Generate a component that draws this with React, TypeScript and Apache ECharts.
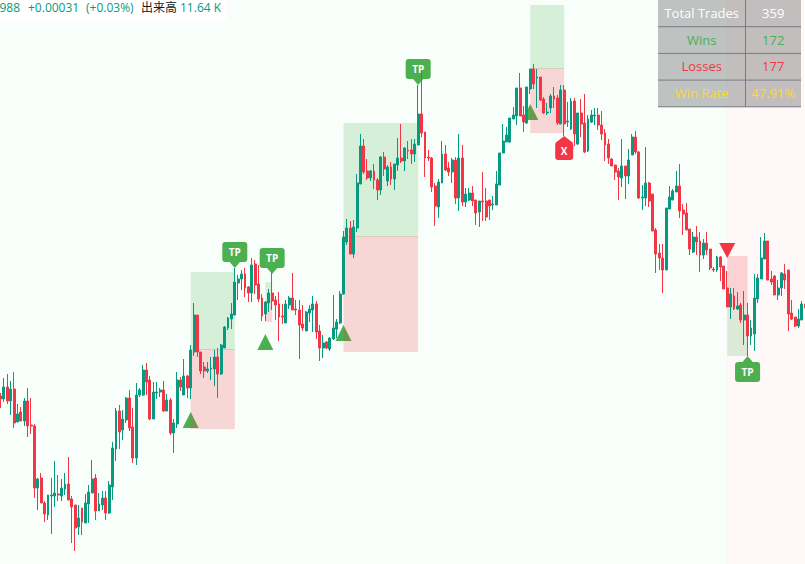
import React, { useEffect, useRef } from "react";
import * as echarts from "echarts";

const GREEN = "#089981";
const RED = "#f23645";
const MARK_GREEN = "#4caf50";
const FONT = "'Open Sans', 'Noto Sans CJK JP', sans-serif";

// Candle side per bar
const sides = (
  "RGRGRGRGRR" + "RGRRGGGRGG" + "RRRGRGGGRG" + "GRGGGRGGRR" + "GGGRRGGGRG" + "RGGRGRGGRR" +
  "RGGGRGGGGG" + "GGRRGRRRGG" + "RRRRGGRRRR" + "GGGRRGRGGG" + "GGGRGGGRRG" + "RRGRGRGGRG" +
  "RRGGRRRRRG" + "GRRGRGRGGR" + "RGRRRGGGGG" + "GGGRRGGRGR" + "RGGRRGRGGR" + "GRRGGGRRRR" +
  "RRRGRGGRRG" + "GRRRRRGGGG" + "RRRRGRRGRR" + "RGRRRGRGRG" + "RGGGGGRRRG" + "GRRRRGGR"
).split("");

// Values, on a scale that runs downward from 0 to 564
const wickTops = [
  393,378,374,381,372,404,407,398,388,398, 424,478,473,501,495,478,461,475,479,473,
  457,496,505,505,508,494,485,460,474,493, 491,491,481,442,408,405,410,397,390,408,
  383,388,365,363,376,382,382,388,381,394, 398,419,372,377,359,375,345,303,315,352,
  362,362,357,350,348,344,326,317,303,268, 275,270,268,286,258,260,265,294,301,289,
  273,296,292,304,300,296,273,300,300,305, 311,305,296,301,325,335,341,337,295,319,
  291,231,219,221,220,174,134,139,159,170, 164,178,156,152,165,162,164,138,124,147,
  141,139,139,85,70,132,150,157,183,179, 141,145,162,158,157,134,145,188,188,186,
  200,201,172,188,200,196,171,153,124,127, 118,107,88,73,106,87,69,64,69,77,
  97,103,94,87,95,85,85,102,98,98, 113,99,94,115,110,108,108,111,129,139,
  158,165,168,139,166,149,134,131,151,185, 147,182,194,228,244,244,208,186,189,171,
  164,204,203,229,232,226,232,239,232,249, 267,256,256,266,271,288,288,292,303,291,
  303,320,274,274,237,233,241,271,275,280, 272,264,270,300,317,309,301,304,
];
const bodyTops = [
  396,387,387,389,389,414,412,401,401,425, 426,479,478,503,495,495,493,494,488,484,
  484,499,505,518,508,503,492,479,478,504, 498,498,485,448,411,411,419,398,398,427,
  395,390,370,370,380,392,392,390,390,400, 400,423,380,380,376,376,350,315,315,352,
  367,369,368,357,357,345,327,318,314,282, 279,274,274,287,265,264,284,298,302,293,
  293,300,304,316,304,298,298,309,310,324, 312,309,304,304,331,343,342,338,328,322,
  294,237,228,228,227,183,146,146,171,171, 171,180,157,157,167,167,164,158,158,148,
  150,150,144,114,114,132,157,158,186,182, 154,154,168,160,160,158,158,194,193,193,
  200,201,201,201,200,204,184,153,141,135, 118,115,88,88,115,87,69,69,77,77,
  99,112,96,96,98,90,90,121,101,101, 113,113,123,119,115,115,115,125,133,144,
  159,165,171,166,166,160,137,137,152,197, 183,183,194,230,253,258,208,197,191,186,
  186,210,213,229,237,237,241,243,243,249, 269,257,257,266,288,294,296,306,305,315,
  315,328,298,278,258,241,241,279,276,288, 273,274,270,313,317,319,304,304,
];
const bodyBottoms = [
  399,399,401,401,423,422,421,421,426,426, 488,488,503,514,515,496,496,495,496,489,
  500,507,528,527,522,523,504,493,511,511, 505,513,513,487,449,432,430,420,428,458,
  458,395,395,382,419,419,393,392,411,411, 433,433,424,387,395,388,388,352,352,371,
  371,371,369,369,374,374,348,328,319,315, 283,279,288,293,293,285,299,316,314,303,
  301,305,317,317,323,305,310,310,325,328, 331,313,310,332,348,348,348,349,339,329,
  323,294,242,254,254,228,184,172,178,178, 180,190,190,169,181,179,179,165,161,161,
  151,154,154,145,133,158,158,187,206,207, 183,170,172,172,198,198,202,202,200,201,
  213,212,202,217,206,205,205,185,153,142, 142,119,116,116,122,123,89,84,78,100,
  113,113,108,99,123,124,124,122,129,134, 144,124,152,151,122,116,125,134,145,158,
  166,172,177,178,176,176,155,152,198,198, 198,201,231,254,258,270,270,209,200,192,
  211,214,230,249,252,242,255,255,250,268, 270,270,267,289,307,307,309,309,320,320,
  336,336,334,299,279,259,280,282,295,295, 288,280,314,319,326,326,320,308,
];
const wickBottoms = [
  408,402,404,415,428,422,421,426,437,434, 498,510,503,522,520,534,507,501,501,495,
  500,543,551,535,535,523,523,493,520,511, 510,520,514,500,461,449,440,423,431,463,
  465,397,396,395,420,419,399,397,412,411, 435,453,428,391,395,398,399,356,357,374,
  378,373,380,386,398,375,348,330,329,315, 300,290,297,302,302,294,302,321,321,312,
  310,320,341,324,323,309,310,315,359,331, 331,322,332,339,361,358,349,351,340,338,
  324,295,245,254,258,232,184,174,180,181, 189,200,195,176,186,185,190,171,163,171,
  159,164,162,145,137,177,161,192,226,218, 183,171,176,183,204,211,206,207,201,206,
  225,227,221,221,220,210,205,185,153,142, 143,119,125,116,132,124,94,89,108,101,
  114,115,113,108,125,124,136,127,130,146, 145,137,153,152,123,125,130,140,161,164,
  166,180,200,187,199,184,155,154,199,210, 206,207,231,273,270,293,270,209,200,192,
  218,235,230,255,253,255,272,259,255,270, 272,272,281,289,307,319,310,310,323,345,
  356,345,351,303,279,259,280,285,295,300, 296,289,331,320,327,328,320,310,
];

// Trade zones: first bar, last bar, from, to
const profitZones = [
  [56, 69, 272, 350], [78, 80, 282, 302], [101, 123, 123, 237], [156, 166, 5, 69], [214, 220, 307, 356],
];
const lossZones = [
  [56, 69, 349, 429], [78, 80, 301, 322], [101, 123, 236, 352], [156, 166, 68, 133], [214, 220, 256, 307],
];
// Entry arrows: bar, base of the arrow, direction (1 = up)
const entries = [
  [56, 428, 1], [78, 350, 1], [101, 341, 1], [156, 120, 1], [214, 243, -1],
];
// Exit tags: bar, tip of the pointer, position (1 = above the bar), label
const exitBars = [69, 80, 123, 166, 220];
const exitTips = [268, 274, 85, 136, 356];
const exitAbove = [1, 1, 1, 0, 0];
const exitLabels = ["TP", "TP", "TP", "X", "TP"];

const tableLabels = ["Total Trades", "Wins", "Losses", "Win Rate"];
const tableValues = ["359", "172", "177", "47.91%"];
const tableColors = ["#ffffff", MARK_GREEN, RED, "#fdd835"];

const bars = sides.map((_, i) => String(i));
const candles = sides.map((s, i) =>
  s === "G"
    ? [bodyBottoms[i], bodyTops[i], wickTops[i], wickBottoms[i]]
    : [bodyTops[i], bodyBottoms[i], wickTops[i], wickBottoms[i]]
);

const zoneSeries = (data: number[][], fill: string, z: number) => ({
  type: "custom",
  z,
  silent: true,
  data,
  encode: { x: [0, 1], y: [2, 3] },
  renderItem: (_: any, api: any) => {
    const a = api.coord([api.value(0), api.value(2)]);
    const b = api.coord([api.value(1), api.value(3)]);
    return { type: "rect", shape: { x: a[0], y: a[1], width: b[0] - a[0], height: b[1] - a[1] }, style: { fill } };
  },
});

export default function App() {
  const ref = useRef<HTMLDivElement>(null);
  useEffect(() => {
    const chart = echarts.init(ref.current!, null, { renderer: "svg" });
    const tableX = 658, tableW = 143, rowH = 26.7, divX = 745.5, tableR = 801;
    const tableEls: any[] = [
      { type: "rect", z: 20, shape: { x: tableX, y: 0, width: tableW, height: 107 }, style: { fill: "rgba(120,120,120,0.45)" } },
      { type: "line", z: 21, shape: { x1: divX, y1: 0, x2: divX, y2: 107 }, style: { stroke: "#787b86", lineWidth: 1 } },
    ];
    tableLabels.forEach((label, i) => {
      const cy = rowH * i + 13;
      tableEls.push(
        { type: "line", z: 21, shape: { x1: tableX, y1: rowH * (i + 1), x2: tableR, y2: rowH * (i + 1) }, style: { stroke: "#787b86", lineWidth: 1 } },
        { type: "text", z: 22, style: { x: (tableX + divX) / 2, y: cy, text: label, fill: tableColors[i], font: `500 13px ${FONT}`, align: "center", verticalAlign: "middle" } },
        { type: "text", z: 22, style: { x: (divX + tableR) / 2, y: cy, text: tableValues[i], fill: tableColors[i], font: `500 13px ${FONT}`, align: "center", verticalAlign: "middle" } }
      );
    });
    const legendText = (x: number, text: string, fill: string) => ({
      type: "text", z: 22, style: { x, y: 7, text, fill, font: `12px ${FONT}`, align: "left", verticalAlign: "middle" },
    });
    chart.setOption({
      animation: false,
      backgroundColor: "#f8fffb",
      grid: { left: -1.2, top: 0, width: 808.2, height: 564, containLabel: false, outerBoundsMode: "none" },
      xAxis: { type: "category", data: bars, show: false, boundaryGap: true },
      yAxis: { type: "value", min: 0, max: 564, inverse: true, show: false, scale: false },
      graphic: {
        elements: [
          { type: "rect", z: -1, silent: true, shape: { x: 726, y: 0, width: 79, height: 564 }, style: { fill: "#fff8f8" } },
          { type: "rect", z: 19, silent: true, shape: { x: 0, y: 0, width: 227, height: 20 }, style: { fill: "rgba(255,255,255,0.9)" } },
          legendText(-0.5, "988", GREEN),
          legendText(28, "+0.00031", GREEN),
          legendText(86, "(+0.03%)", GREEN),
          legendText(141, "出来高", "#131722"),
          legendText(180, "11.64 K", GREEN),
          ...tableEls,
        ],
      },
      series: [
        {
          type: "custom",
          z: 1,
          silent: true,
          data: entries,
          encode: { x: 0, y: 1 },
          renderItem: (_: any, api: any) => {
            const p = api.coord([api.value(0), api.value(1)]);
            const up = api.value(2) > 0;
            const tipY = up ? p[1] - 16 : p[1] + 15;
            return {
              type: "polygon",
              shape: { points: [[p[0] - 8, p[1]], [p[0] + 8, p[1]], [p[0], tipY]] },
              style: { fill: up ? MARK_GREEN : RED },
            };
          },
        },
        zoneSeries(profitZones, "rgba(76,175,80,0.2)", 2),
        zoneSeries(lossZones, "rgba(242,54,69,0.2)", 2),
        {
          type: "custom",
          z: 3,
          silent: true,
          data: exitBars.map((b, i) => [b, exitTips[i], exitAbove[i], i]),
          encode: { x: 0, y: 1 },
          renderItem: (_: any, api: any) => {
            const p = api.coord([api.value(0), api.value(1)]);
            const above = api.value(2) > 0;
            const label = exitLabels[api.value(3)];
            const isX = label === "X";
            const w = isX ? 18 : 25, h = isX ? 18 : 20, ptr = 6;
            const fill = isX ? RED : MARK_GREEN;
            const top = above ? p[1] - ptr - h : p[1] + ptr;
            const edge = above ? top + h : top;
            return {
              type: "group",
              children: [
                { type: "rect", shape: { x: p[0] - w / 2, y: top, width: w, height: h, r: 3 }, style: { fill } },
                { type: "polygon", shape: { points: [[p[0] - (isX ? 9 : 6), edge + (above ? -1 : 1)], [p[0] + (isX ? 9 : 6), edge + (above ? -1 : 1)], [p[0], p[1]]] }, style: { fill } },
                { type: "text", style: { x: p[0], y: top + h / 2, text: label, fill: "#ffffff", font: `bold 10px ${FONT}`, align: "center", verticalAlign: "middle" } },
              ],
            };
          },
        },
        {
          type: "candlestick",
          z: 5,
          silent: true,
          barWidth: 2.4,
          data: candles,
          itemStyle: { color: RED, color0: GREEN, borderColor: RED, borderColor0: GREEN, borderWidth: 1 },
        },
      ],
    });
    return () => chart.dispose();
  }, []);
  return <div ref={ref} style={{ position: "absolute", left: 0, top: 0, width: 805, height: 564 }} />;
}
